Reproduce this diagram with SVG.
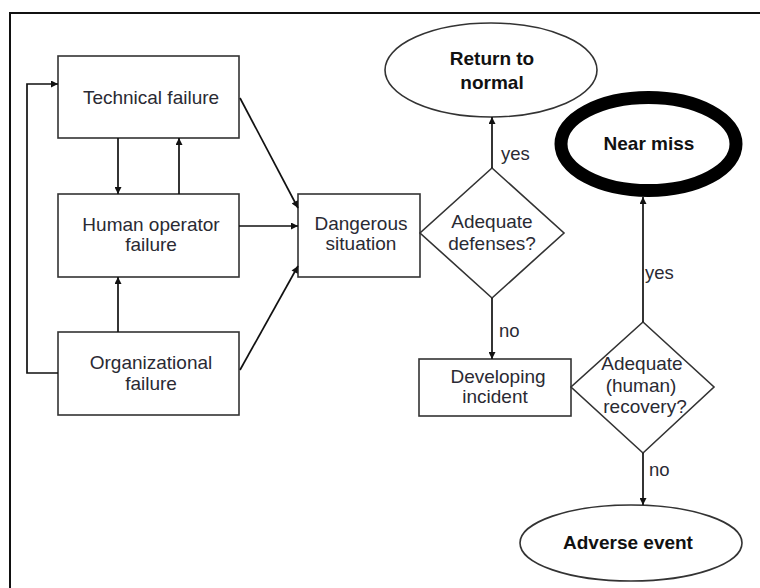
<svg xmlns="http://www.w3.org/2000/svg" width="760" height="588" viewBox="0 0 760 588">
<defs>
<marker id="ah" viewBox="0 0 10 10" refX="10" refY="5" markerWidth="8" markerHeight="7" markerUnits="userSpaceOnUse" orient="auto">
<path d="M0,0 L10,5 L0,10 z" fill="#111"/>
</marker>
</defs>
<style>
.box{fill:#fff;stroke:#333;stroke-width:1.6}
.t{font-family:"Liberation Sans",Arial,sans-serif;font-size:19px;fill:#2a2a33;text-anchor:middle}
.b{font-weight:bold;fill:#111}
.lbl{font-family:"Liberation Sans",Arial,sans-serif;font-size:18.5px;fill:#2a2a33}
.c{fill:none;stroke:#111;stroke-width:1.7;marker-end:url(#ah)}
</style>
<rect width="760" height="588" fill="#fff"/>
<path d="M10,588 L10,13 L760,13" fill="none" stroke="#111" stroke-width="2"/>

<g id="technical">
<rect class="box" x="58" y="56" width="181" height="82"/>
<text class="t" x="151" y="104">Technical failure</text>
</g>
<g id="human">
<rect class="box" x="58" y="194" width="181" height="83"/>
<text class="t" x="151" y="231">Human operator</text>
<text class="t" x="151" y="251">failure</text>
</g>
<g id="organizational">
<rect class="box" x="58" y="332" width="181" height="83"/>
<text class="t" x="151" y="369">Organizational</text>
<text class="t" x="151" y="390">failure</text>
</g>
<g id="dangerous">
<rect class="box" x="298" y="194" width="122" height="83"/>
<text class="t" x="361" y="230">Dangerous</text>
<text class="t" x="361" y="250">situation</text>
</g>
<g id="defenses">
<polygon class="box" points="492,168 564,233 492,298 420,233"/>
<text class="t" x="492" y="228">Adequate</text>
<text class="t" x="492" y="250">defenses?</text>
</g>
<g id="return">
<ellipse class="box" cx="491" cy="70" rx="106" ry="47"/>
<text class="t b" x="492" y="65">Return to</text>
<text class="t b" x="492" y="89">normal</text>
</g>
<g id="developing">
<rect class="box" x="419" y="359" width="152" height="57" stroke-width="2.4"/>
<text class="t" x="498" y="383">Developing</text>
<text class="t" x="495" y="403">incident</text>
</g>
<g id="recovery">
<polygon class="box" points="643,322 714,387 643,453 571,387"/>
<text class="t" x="642" y="370">Adequate</text>
<text class="t" x="641" y="392">(human)</text>
<text class="t" x="645" y="413">recovery?</text>
</g>
<g id="nearmiss">
<ellipse cx="648.5" cy="144" rx="87.5" ry="46.5" fill="#fff" stroke="#000" stroke-width="13"/>
<text class="t b" x="649" y="150">Near miss</text>
</g>
<g id="adverse">
<ellipse class="box" cx="631" cy="543" rx="111" ry="38"/>
<text class="t b" x="628" y="549">Adverse event</text>
</g>

<g id="connectors">
<path class="c" d="M58,373 L27,373 L27,84 L58,84"/>
<path class="c" d="M118,138 L118,194"/>
<path class="c" d="M179,194 L179,138" stroke-width="2.2"/>
<path class="c" d="M118,332 L118,277"/>
<path class="c" d="M239,226 L298,226"/>
<path class="c" d="M240,98 L298,208"/>
<path class="c" d="M240,370 L298,266"/>
<path class="c" d="M492,168 L492,117" stroke-width="2.2"/>
<path class="c" d="M492,298 L492,359"/>
<path class="c" d="M643,322 L643,197"/>
<path class="c" d="M643,453 L643,505"/>
<text class="lbl" x="501" y="160">yes</text>
<text class="lbl" x="499" y="337">no</text>
<text class="lbl" x="645" y="279">yes</text>
<text class="lbl" x="649" y="476">no</text>
</g>
</svg>
